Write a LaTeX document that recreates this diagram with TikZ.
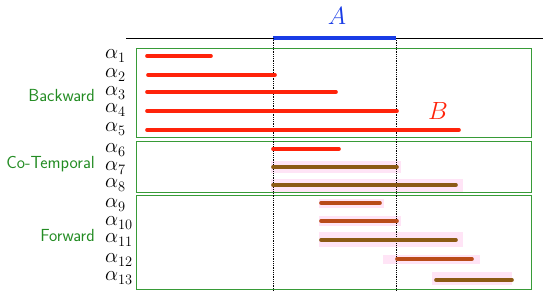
\documentclass[tikz,border=0pt]{standalone}
\usepackage{tikz}
\definecolor{grpgreen}{RGB}{35,140,35}
\definecolor{boxgreen}{RGB}{55,155,55}
\definecolor{barred}{RGB}{255,35,10}
\definecolor{barbrown}{RGB}{140,90,20}
\definecolor{barrust}{RGB}{185,75,25}
\definecolor{hlpink}{RGB}{255,228,246}
\definecolor{ablue}{RGB}{25,60,230}
\tikzset{
  grpbox/.style={draw=boxgreen, line width=1pt},
  grplabel/.style={anchor=east, text=grpgreen, font=\sffamily\fontsize{17.5}{17.5}\selectfont, inner sep=0pt},
  alabel/.style={anchor=west, font=\fontsize{20.5}{20.5}\selectfont, inner sep=0pt},
  ivbar/.style={line width=3.6pt, line cap=round},
  hlbox/.style={fill=hlpink, draw=none},
  guide/.style={densely dotted, line width=0.8pt, black},
}
\begin{document}
\begin{tikzpicture}[x=1pt,y=-1pt]
\useasboundingbox (0,0) rectangle (550,298);
% time axis
\coordinate (axL) at (126,38);
\coordinate (axR) at (543,38);
\coordinate (aL) at (273,38);
\coordinate (aR) at (396,38);
\draw[line width=0.9pt] (axL) -- (axR);
\draw[ablue, line width=3.6pt] (aL) -- (aR);
\node[text=ablue, font=\fontsize{26}{26}\selectfont] (A) at (337,16) {$A$};
% group boxes
\draw[grpbox] (136,48) rectangle (531,137);
\draw[grpbox] (136,141) rectangle (531,192);
\draw[grpbox] (136,195) rectangle (531,289);
\node[grplabel] (bw) at (95,95) {Backward};
\node[grplabel] (ct) at (95,164) {Co-Temporal};
\node[grplabel] (fw) at (95,235) {Forward};
% highlights
\fill[hlbox] (271,161) rectangle (401,173);
\fill[hlbox] (271,179) rectangle (463,192);
\fill[hlbox] (319,199) rectangle (384,208);
\fill[hlbox] (319,216) rectangle (401,226);
\fill[hlbox] (319,232) rectangle (463,247);
\fill[hlbox] (383,255) rectangle (480,264);
\fill[hlbox] (432,272) rectangle (512,285);
% guides
\coordinate (gLb) at (273,291);
\coordinate (gRb) at (396,291);
\draw[guide] (aL) -- (gLb);
\draw[guide] (aR) -- (gRb);
% labels
\foreach \i/\y in {1/56,2/75,3/93,4/110,5/129,6/150,7/168,8/185,9/205,10/223,11/240,12/260,13/278}{
  \node[alabel] (l\i) at (105,\y) {$\alpha_{\i}$};
}
% bars
\foreach \i/\a/\b/\y/\c in {1/147/211/56/barred,2/148/275/75/barred,3/147/336/92/barred,4/147/397/111/barred,5/147/459/130/barred,6/273/339/149/barred,7/273/397/167/barbrown,8/273/456/185/barbrown,9/321/380/203/barrust,10/321/397/221/barrust,11/321/456/240/barbrown,12/397/472/259/barrust,13/436/512/280/barbrown}{
  \coordinate (s\i) at (\a,\y);
  \coordinate (e\i) at (\b,\y);
  \draw[ivbar, \c] (s\i) -- (e\i);
}
\node[text=barred, font=\fontsize{25}{25}\selectfont] (B) at (438,111) {$B$};
\end{tikzpicture}
\end{document}
